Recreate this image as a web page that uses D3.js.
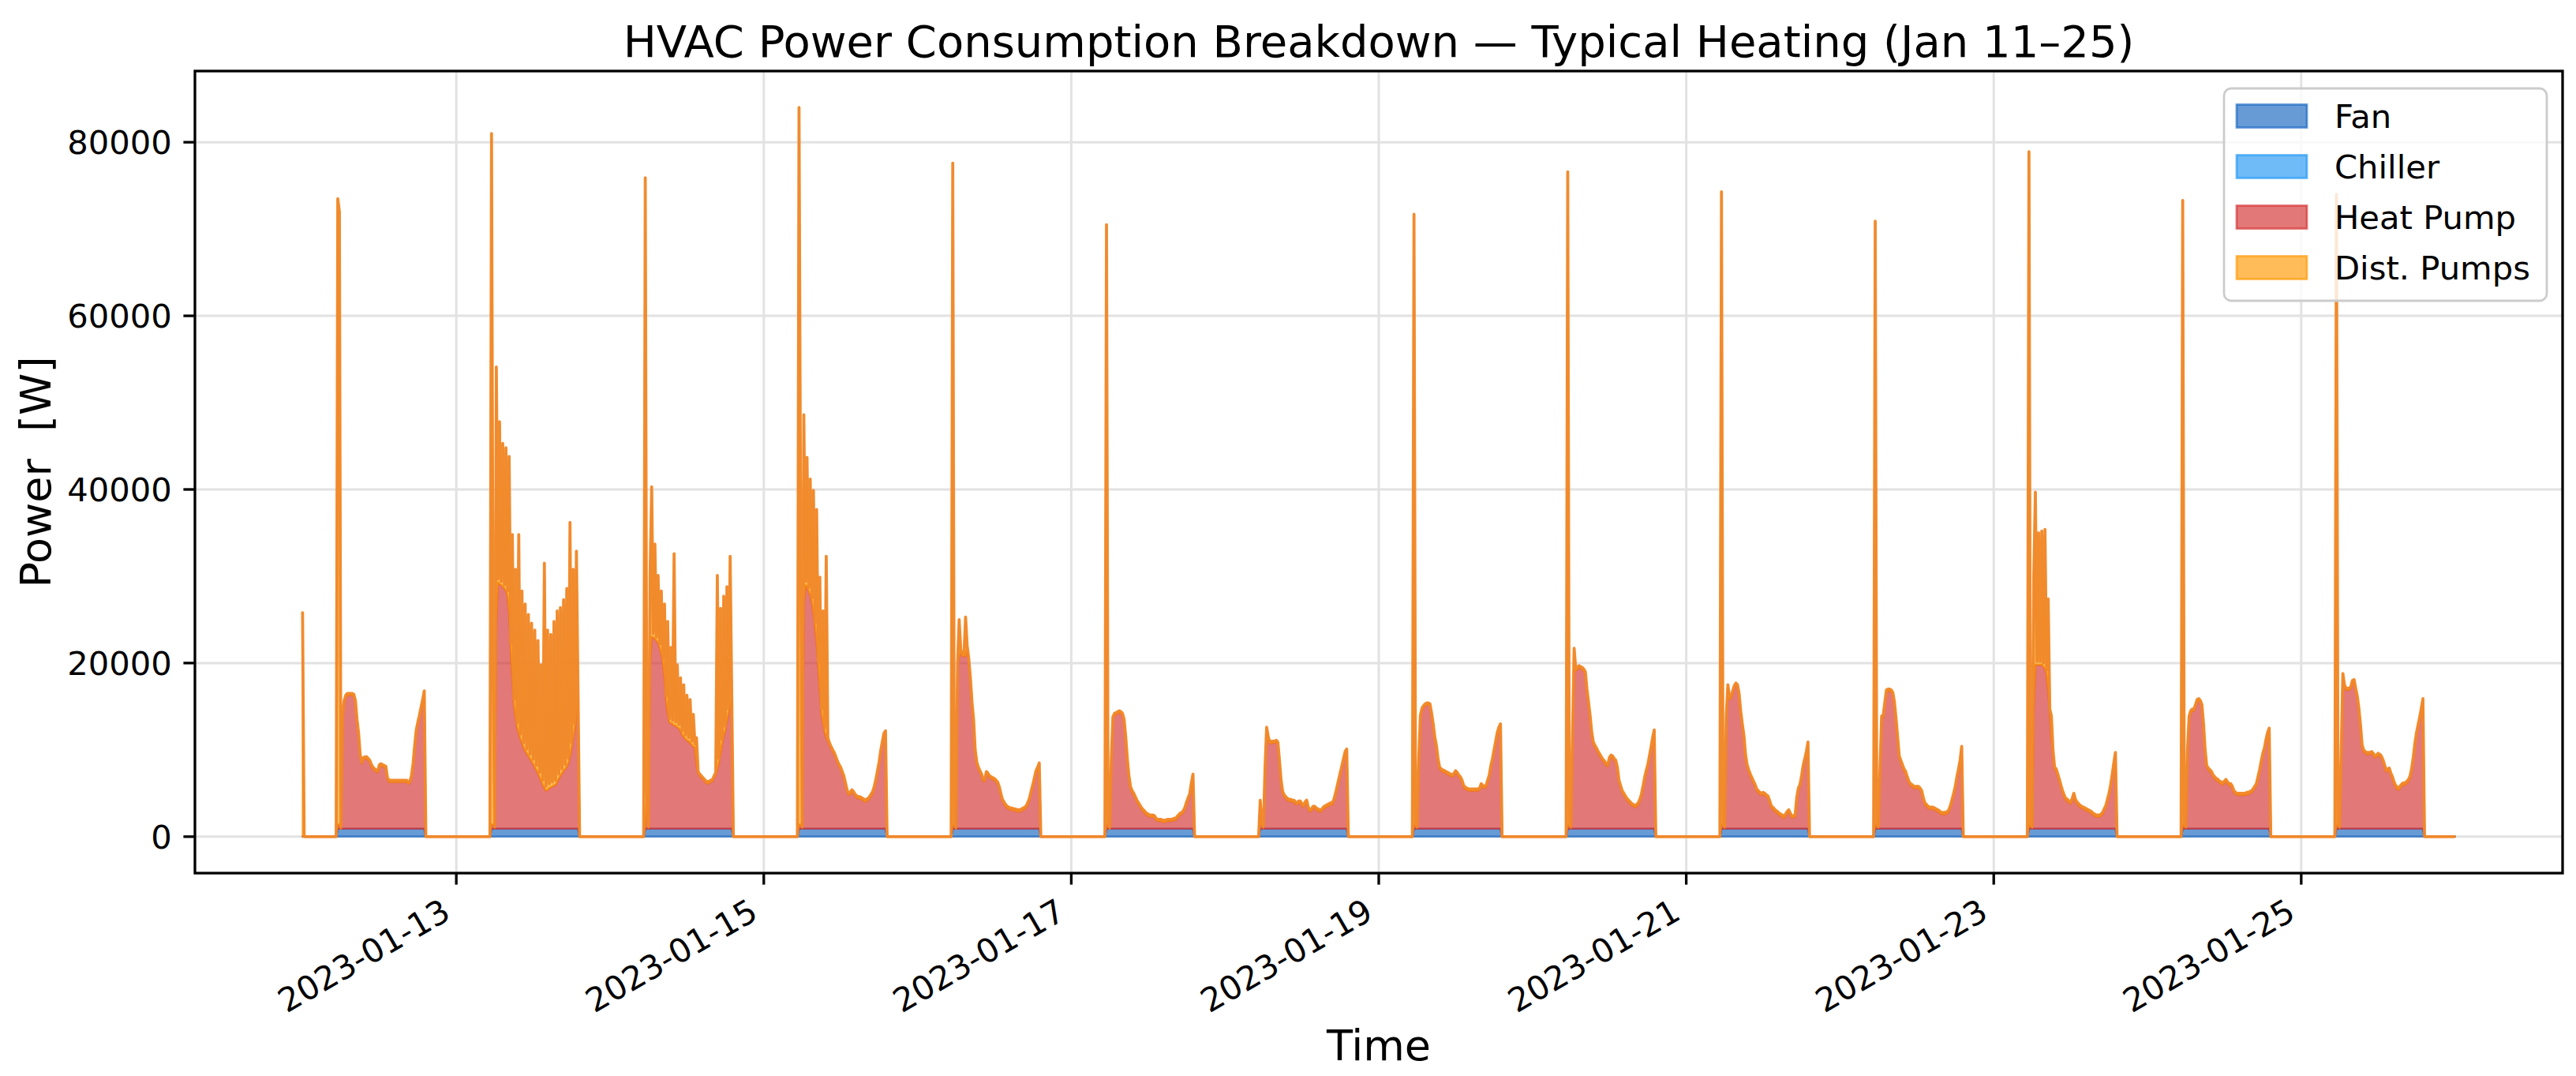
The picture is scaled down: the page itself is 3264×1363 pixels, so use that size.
<!DOCTYPE html>
<html><head><meta charset="utf-8">
<script src="https://cdn.jsdelivr.net/npm/d3@7"></script>
<style>
body{margin:0;background:#fff}
svg{display:block}
text{font-family:"DejaVu Sans",sans-serif;fill:#000}
</style>
</head><body>
<svg id="c" width="3264" height="1363"></svg>
<script>
// ---------------- DATA (kW, 15-min samples while the plant is on, 05:30 .. 19:00) ----------------
const seriesNames  = ["Fan", "Chiller", "Heat Pump", "Dist. Pumps"];
const seriesColors = ["#1565C0", "#2196F3", "#D32F2F", "#FF9800"];
const dayDates     = ["2023-01-12","2023-01-13","2023-01-14","2023-01-15","2023-01-16","2023-01-17","2023-01-18",
                      "2023-01-19","2023-01-20","2023-01-21","2023-01-22","2023-01-23","2023-01-24","2023-01-25"];
const seriesStart  = "2023-01-12T00:00";
const seriesEnd    = "2023-01-26T00:00";
const onTime       = "05:30";
const stepMinutes  = 15;
const startSpikeKW = 25.9;   // Dist. Pumps reading at the very first sample
const fanKW     = [0.9,0.9,0.9,0.9,0.9,0.9,0.9,0.9,0.9,0.9,0.9,0.9,0.9,0.9];
const chillerKW = [0,0,0,0,0,0,0,0,0,0,0,0,0,0];

const hp12 = [0.5,0.5,0.0,12.7,14.6,15.2,15.4,15.4,15.4,15.4, 15.3,14.6,12.4,10.8,8.3,7.5,8.0,8.1,8.1,7.9, 7.7,7.2,6.9,6.7,6.6,6.5,7.2,7.3,7.2,7.1, 7.0,5.7,5.4,5.4,5.4,5.4,5.4,5.4,5.4,5.4, 5.4,5.4,5.4,5.4,5.2,5.3,5.9,7.3,9.4,11.2, 12.1,12.9,13.8,14.7,15.7];
const dp12 = [72.1,70.6,0.2,0.2,0.2,0.2,0.2,0.2,0.2,0.2, 0.2,0.2,0.2,0.2,0.2,0.2,0.2,0.2,0.2,0.2, 0.2,0.2,0.2,0.2,0.2,0.2,0.2,0.2,0.2,0.2, 0.2,0.2,0.2,0.2,0.2,0.2,0.2,0.2,0.2,0.2, 0.2,0.2,0.2,0.2,0.2,0.2,0.2,0.2,0.2,0.2, 0.2,0.2,0.2,0.2,0.2];
const hp13 = [0.5,0.5,0.1,23.9,28.4,28.2,28.1,27.9,27.7,27.4, 26.9,24.9,20.9,17.4,14.4,12.9,11.7,11.0,10.4,9.9, 9.4,9.0,8.7,8.4,8.1,7.8,7.5,7.1,6.8,6.4, 6.0,5.5,5.1,4.7,4.4,4.5,4.7,4.8,4.9,5.0, 5.1,5.4,5.8,6.1,6.4,6.7,6.9,7.2,7.6,8.4, 9.4,10.4,11.6,13.4,15.4];
const dp13 = [79.6,17.6,0.2,29.3,0.4,18.7,0.4,16.5,0.4,16.5, 0.5,18.0,0.5,16.5,0.5,17.0,0.5,22.9,0.5,17.5, 0.5,16.9,0.5,16.3,0.5,15.9,0.5,15.8,0.5,15.3, 0.5,13.4,0.5,25.9,0.5,18.4,0.5,17.6,0.5,18.9, 0.5,19.7,0.5,19.4,0.5,19.7,0.5,20.5,0.5,26.9, 0.5,19.5,0.5,18.6,0.5];
const hp14 = [0.5,3.9,0.1,18.9,22.1,22.1,21.9,21.7,21.4,20.9, 20.1,19.3,17.4,14.9,13.4,12.3,12.2,12.1,11.9,11.9, 11.7,11.6,11.3,10.9,10.6,10.4,10.2,10.1,9.9,9.7, 9.5,9.4,7.4,6.4,6.1,5.9,5.7,5.5,5.3,5.2, 5.3,5.4,5.5,5.9,6.3,6.9,7.7,8.7,9.9,10.7, 11.4,12.4,13.4,14.2,14.9];
const dp14 = [74.5,0.2,0.2,10.6,17.3,0.4,10.9,0.4,7.8,0.4, 7.3,0.4,8.5,0.4,10.5,0.4,8.7,0.4,19.8,0.4, 7.2,0.4,6.1,0.4,6.0,0.4,5.2,0.4,5.0,0.4, 3.7,0.4,3.1,0.2,0.2,0.2,0.2,0.2,0.2,0.2, 0.2,0.2,0.2,0.2,0.2,22.3,0.4,16.7,0.4,16.1, 0.4,15.5,0.4,17.2,0.4];
const hp15 = [0.5,0.5,0.1,25.9,28.1,27.9,27.4,26.9,26.2,24.9, 23.4,21.4,18.9,15.9,13.4,12.1,11.2,10.5,10.1,9.7, 9.3,8.9,8.6,8.1,7.6,7.2,6.9,6.4,5.9,5.1, 4.3,3.9,4.0,4.3,4.1,3.8,3.6,3.5,3.5,3.4, 3.3,3.1,3.2,3.3,3.5,3.8,4.1,4.7,5.5,6.5, 7.5,8.8,9.8,10.8,11.1];
const dp15 = [82.6,34.6,0.2,21.8,0.4,14.9,0.4,13.4,0.4,14.1, 0.4,15.4,0.4,13.1,0.4,13.0,0.4,20.9,0.4,0.2, 0.2,0.2,0.2,0.2,0.2,0.2,0.2,0.2,0.2,0.2, 0.2,0.2,0.2,0.2,0.2,0.2,0.2,0.2,0.2,0.2, 0.2,0.2,0.2,0.2,0.2,0.2,0.2,0.2,0.2,0.2, 0.2,0.2,0.2,0.2,0.2];
const hp16 = [0.5,0.4,0.0,18.9,19.9,20.4,19.9,19.9,19.9,20.9, 19.4,17.2,14.4,12.4,8.9,7.5,6.9,6.5,6.1,5.5, 5.5,6.4,6.2,5.9,5.8,5.7,5.6,5.4,5.2,4.7, 3.9,3.2,2.9,2.6,2.4,2.3,2.2,2.2,2.1,2.1, 2.0,2.0,2.0,2.1,2.2,2.3,2.5,2.9,3.4,4.2, 4.9,5.7,6.5,6.9,7.4];
const dp16 = [76.2,0.2,0.2,0.2,4.2,0.2,0.2,0.2,4.5,0.2, 0.2,0.2,0.2,0.2,0.2,0.2,0.2,0.2,0.2,0.2, 0.2,0.2,0.2,0.2,0.2,0.2,0.2,0.2,0.2,0.2, 0.2,0.2,0.2,0.2,0.2,0.2,0.2,0.2,0.2,0.2, 0.2,0.2,0.2,0.2,0.2,0.2,0.2,0.2,0.2,0.2, 0.2,0.2,0.2,0.2,0.2];
const hp17 = [0.5,0.4,0.0,7.9,12.7,13.1,13.2,13.3,13.4,13.3, 13.1,12.4,10.4,7.9,5.9,4.7,4.2,3.9,3.5,3.1, 2.8,2.5,2.2,2.0,1.8,1.6,1.5,1.4,1.4,1.4, 1.3,1.0,0.9,0.9,0.9,0.8,0.8,0.8,0.9,0.9, 0.9,0.9,1.0,1.0,1.2,1.4,1.6,1.7,1.9,2.3, 2.9,3.4,3.9,5.1,6.1];
const dp17 = [69.1,0.2,0.2,0.2,0.2,0.2,0.2,0.2,0.2,0.2, 0.2,0.2,0.2,0.2,0.2,0.2,0.2,0.2,0.2,0.2, 0.2,0.2,0.2,0.2,0.2,0.2,0.2,0.2,0.2,0.2, 0.2,0.2,0.2,0.2,0.2,0.2,0.2,0.2,0.2,0.2, 0.2,0.2,0.2,0.2,0.2,0.2,0.2,0.2,0.2,0.2, 0.2,0.2,0.2,0.2,0.2];
const hp18 = [3.1,0.4,0.1,6.9,11.5,10.4,9.8,9.9,9.9,9.9, 10.0,9.8,7.7,5.4,4.1,3.7,3.5,3.3,3.2,3.2, 3.1,3.1,2.9,2.8,3.0,3.0,2.7,2.5,2.9,3.1, 2.3,2.0,2.1,2.4,2.4,2.2,2.1,2.0,2.0,2.2, 2.4,2.5,2.6,2.7,2.8,2.8,3.2,3.9,4.7,5.5, 6.3,7.1,7.9,8.7,9.0];
const dp18 = [0.2,0.2,0.2,0.2,0.2,0.2,0.2,0.2,0.2,0.2, 0.2,0.2,0.2,0.2,0.2,0.2,0.2,0.2,0.2,0.2, 0.2,0.2,0.2,0.2,0.2,0.2,0.2,0.2,0.2,0.2, 0.2,0.2,0.2,0.2,0.2,0.2,0.2,0.2,0.2,0.2, 0.2,0.2,0.2,0.2,0.2,0.2,0.2,0.2,0.2,0.2, 0.2,0.2,0.2,0.2,0.2];
const hp19 = [0.5,0.4,0.1,7.9,12.9,13.7,14.0,14.2,14.3,14.3, 14.2,13.1,11.9,10.4,9.4,7.9,6.9,6.7,6.6,6.5, 6.4,6.3,6.2,6.1,6.0,6.2,6.5,6.3,6.0,5.8, 5.4,4.8,4.6,4.5,4.4,4.4,4.4,4.4,4.4,4.4, 4.4,4.5,5.0,4.8,4.7,4.8,5.4,6.0,7.1,7.9, 8.9,9.9,10.9,11.5,11.9];
const dp19 = [70.3,0.2,0.2,0.2,0.2,0.2,0.2,0.2,0.2,0.2, 0.2,0.2,0.2,0.2,0.2,0.2,0.2,0.2,0.2,0.2, 0.2,0.2,0.2,0.2,0.2,0.2,0.2,0.2,0.2,0.2, 0.2,0.2,0.2,0.2,0.2,0.2,0.2,0.2,0.2,0.2, 0.2,0.2,0.2,0.2,0.2,0.2,0.2,0.2,0.2,0.2, 0.2,0.2,0.2,0.2,0.2];
const hp20 = [0.5,0.4,0.1,10.9,18.2,18.2,18.4,18.6,18.5,18.4, 18.2,17.9,15.9,14.4,12.8,10.9,9.8,9.4,9.1,8.7, 8.4,8.1,7.8,7.6,7.3,7.2,8.0,8.3,8.2,7.9, 7.7,6.9,5.4,4.8,4.2,3.9,3.6,3.3,3.1,2.9, 2.7,2.6,2.5,2.6,2.8,3.2,3.8,4.7,5.7,6.5, 7.2,8.2,9.2,10.3,11.2];
const dp20 = [75.2,0.2,0.2,0.2,2.6,0.2,0.2,0.2,0.2,0.2, 0.2,0.2,0.2,0.2,0.2,0.2,0.2,0.2,0.2,0.2, 0.2,0.2,0.2,0.2,0.2,0.2,0.2,0.2,0.2,0.2, 0.2,0.2,0.2,0.2,0.2,0.2,0.2,0.2,0.2,0.2, 0.2,0.2,0.2,0.2,0.2,0.2,0.2,0.2,0.2,0.2, 0.2,0.2,0.2,0.2,0.2];
const hp21 = [0.5,0.4,0.1,12.9,16.4,14.9,15.1,15.7,16.3,16.6, 16.4,15.4,13.4,11.9,10.6,8.4,7.2,6.6,6.1,5.7, 5.3,4.9,4.4,4.2,4.0,3.9,4.0,3.9,3.7,3.6, 3.1,2.5,2.3,2.1,1.9,1.8,1.6,1.5,1.4,1.2, 1.5,1.8,2.0,1.6,1.3,1.3,1.4,3.4,4.5,4.9, 5.9,7.1,7.9,8.7,9.8];
const dp21 = [72.9,0.2,0.2,0.2,0.2,0.2,0.2,0.2,0.2,0.2, 0.2,0.2,0.2,0.2,0.2,0.2,0.2,0.2,0.2,0.2, 0.2,0.2,0.2,0.2,0.2,0.2,0.2,0.2,0.2,0.2, 0.2,0.2,0.2,0.2,0.2,0.2,0.2,0.2,0.2,0.2, 0.2,0.2,0.2,0.2,0.2,0.2,0.2,0.2,0.2,0.2, 0.2,0.2,0.2,0.2,0.2];
const hp22 = [0.5,0.4,0.1,6.9,12.8,12.9,14.4,15.8,15.9,15.9, 15.8,15.5,14.4,12.5,10.4,8.2,7.7,7.2,6.7,6.4, 5.8,5.3,5.0,4.9,4.7,4.7,4.7,4.7,4.5,4.2, 3.4,2.8,2.6,2.4,2.3,2.3,2.3,2.2,2.1,2.0, 1.9,1.7,1.7,1.7,1.7,1.8,2.0,2.5,3.2,3.9, 4.7,5.8,6.7,7.7,9.3];
const dp22 = [69.5,0.2,0.2,0.2,0.2,0.2,0.2,0.2,0.2,0.2, 0.2,0.2,0.2,0.2,0.2,0.2,0.2,0.2,0.2,0.2, 0.2,0.2,0.2,0.2,0.2,0.2,0.2,0.2,0.2,0.2, 0.2,0.2,0.2,0.2,0.2,0.2,0.2,0.2,0.2,0.2, 0.2,0.2,0.2,0.2,0.2,0.2,0.2,0.2,0.2,0.2, 0.2,0.2,0.2,0.2,0.2];
const hp23 = [0.5,0.4,0.1,13.9,18.9,18.9,18.9,18.9,18.9,18.7, 18.4,17.9,15.9,13.4,10.4,8.9,6.9,6.7,6.1,5.5, 4.8,4.2,3.7,3.3,3.2,3.0,2.9,3.3,3.9,3.2, 2.9,2.7,2.5,2.4,2.3,2.2,2.1,2.0,1.9,1.8, 1.6,1.5,1.4,1.4,1.4,1.5,1.7,2.1,2.5,3.2, 3.9,4.9,6.1,7.4,8.6];
const dp23 = [77.5,0.2,0.2,15.2,19.9,0.4,15.2,0.4,15.4,0.4, 16.1,0.4,10.6,0.4,2.6,0.2,0.2,0.2,0.2,0.2, 0.2,0.2,0.2,0.2,0.2,0.2,0.2,0.2,0.2,0.2, 0.2,0.2,0.2,0.2,0.2,0.2,0.2,0.2,0.2,0.2, 0.2,0.2,0.2,0.2,0.2,0.2,0.2,0.2,0.2,0.2, 0.2,0.2,0.2,0.2,0.2];
const hp24 = [0.5,0.4,0.1,8.9,12.8,13.4,13.6,13.6,14.1,14.7, 14.8,14.6,14.1,11.9,8.9,7.1,6.8,6.6,6.4,6.0, 5.8,5.6,5.5,5.3,5.2,5.1,5.3,5.5,5.2,5.0, 5.0,4.7,4.2,4.0,3.9,3.9,3.9,3.9,3.9,3.9, 4.0,4.0,4.1,4.2,4.4,4.7,5.0,5.8,6.6,7.6, 8.5,9.1,10.1,10.9,11.4];
const dp24 = [71.9,0.2,0.2,0.2,0.2,0.2,0.2,0.2,0.2,0.2, 0.2,0.2,0.2,0.2,0.2,0.2,0.2,0.2,0.2,0.2, 0.2,0.2,0.2,0.2,0.2,0.2,0.2,0.2,0.2,0.2, 0.2,0.2,0.2,0.2,0.2,0.2,0.2,0.2,0.2,0.2, 0.2,0.2,0.2,0.2,0.2,0.2,0.2,0.2,0.2,0.2, 0.2,0.2,0.2,0.2,0.2];
const hp25 = [0.5,0.4,0.1,8.9,17.7,16.4,16.0,16.0,16.0,16.2, 16.9,17.0,16.0,15.1,13.7,11.8,9.5,8.9,8.7,8.6, 8.6,8.6,8.7,8.5,8.2,8.3,8.5,8.4,8.2,7.8, 7.2,6.6,6.7,6.8,6.2,5.8,5.2,4.8,4.6,4.5, 4.8,5.0,5.1,5.1,5.3,5.5,5.9,6.8,8.1,9.7, 10.9,11.8,12.7,13.7,14.8];
const dp25 = [72.6,0.2,0.2,0.2,0.2,0.2,0.2,0.2,0.2,0.2, 0.2,0.2,0.2,0.2,0.2,0.2,0.2,0.2,0.2,0.2, 0.2,0.2,0.2,0.2,0.2,0.2,0.2,0.2,0.2,0.2, 0.2,0.2,0.2,0.2,0.2,0.2,0.2,0.2,0.2,0.2, 0.2,0.2,0.2,0.2,0.2,0.2,0.2,0.2,0.2,0.2, 0.2,0.2,0.2,0.2,0.2];

const xTickLabels = ["2023-01-13","2023-01-15","2023-01-17","2023-01-19","2023-01-21","2023-01-23","2023-01-25"];
const yTickValues = [0, 20000, 40000, 60000, 80000];
const titleText = "HVAC Power Consumption Breakdown \u2014 Typical Heating (Jan 11\u201325)";
const xLabelText = "Time";
const yLabelText = "Power  [W]";

// ---------------- BUILD TIME SERIES ----------------
const hpDays = [hp12,hp13,hp14,hp15,hp16,hp17,hp18,hp19,hp20,hp21,hp22,hp23,hp24,hp25];
const dpDays = [dp12,dp13,dp14,dp15,dp16,dp17,dp18,dp19,dp20,dp21,dp22,dp23,dp24,dp25];
const keys = ["fan","chiller","hp","dp"];
const parseUTC = s => new Date(s + ":00Z");
const [onH, onM] = onTime.split(":").map(Number);
const onSlot = (onH*60 + onM) / stepMinutes;
const slotsPerDay = 24*60/stepMinutes;
const rows = [];
dayDates.forEach((ds, k) => {
  const base = parseUTC(ds + "T00:00").getTime();
  for (let s = 0; s < slotsPerDay; s++) {
    const i = s - onSlot;
    const on = i >= 0 && i < hpDays[k].length;
    rows.push({
      t: new Date(base + s*stepMinutes*60000),
      fan: on ? fanKW[k]*1000 : 0,
      chiller: on ? chillerKW[k]*1000 : 0,
      hp: on ? hpDays[k][i]*1000 : 0,
      dp: on ? dpDays[k][i]*1000 : 0
    });
  }
});
rows.push({t: parseUTC(seriesEnd), fan:0, chiller:0, hp:0, dp:0});
rows[0].dp = startSpikeKW*1000;
rows.forEach(r => r.total = r.fan + r.chiller + r.hp + r.dp);

// ---------------- LAYOUT ----------------
const L = 247, R = 3247, T = 90, B = 1106;
const svg = d3.select("#c");
const tMin = parseUTC(seriesStart).getTime(), tMax = parseUTC(seriesEnd).getTime();
const tPad = 0.05*(tMax - tMin);
const x = d3.scaleUtc().domain([new Date(tMin - tPad), new Date(tMax + tPad)]).range([L, R]);
const yMax = d3.max(rows, r => r.total);
const y = d3.scaleLinear().domain([-0.05*yMax, 1.05*yMax]).range([B, T]);

const tickFont = 41.7;
const xTicks = xTickLabels.map(s => parseUTC(s + "T00:00"));

// grid
const grid = svg.append("g");
yTickValues.forEach(v => grid.append("line").attr("x1", L).attr("x2", R).attr("y1", y(v)).attr("y2", y(v))
  .attr("stroke", "#e2e2e2").attr("stroke-width", 3));
xTicks.forEach(t => grid.append("line").attr("x1", x(t)).attr("x2", x(t)).attr("y1", T).attr("y2", B)
  .attr("stroke", "#e2e2e2").attr("stroke-width", 3));

// stacked areas
svg.append("clipPath").attr("id", "clip").append("rect").attr("x", L).attr("y", T).attr("width", R-L).attr("height", B-T);
const plot = svg.append("g").attr("clip-path", "url(#clip)");
const stack = d3.stack().keys(keys);
const layers = stack(rows);
const area = d3.area().x(d => x(d.data.t)).y0(d => y(d[0])).y1(d => y(d[1]));
layers.forEach((layer, j) => {
  plot.append("path").datum(layer).attr("d", area)
    .attr("fill", seriesColors[j]).attr("fill-opacity", 0.65)
    .attr("stroke", seriesColors[j]).attr("stroke-opacity", 0.65).attr("stroke-width", 2.4)
    .attr("stroke-linejoin", "round");
});
// total outline
const line = d3.line().x(d => x(d.t)).y(d => y(d.total));
plot.append("path").datum(rows).attr("d", line).attr("fill", "none")
  .attr("stroke", "#F0882A").attr("stroke-opacity", 0.95).attr("stroke-width", 3.8).attr("stroke-linejoin", "round");

// spines
svg.append("rect").attr("x", L).attr("y", T).attr("width", R-L).attr("height", B-T)
  .attr("fill", "none").attr("stroke", "#000").attr("stroke-width", 3.3);

// y axis ticks
const yAx = svg.append("g");
yTickValues.forEach(v => {
  yAx.append("line").attr("x1", L - 14.6).attr("x2", L).attr("y1", y(v)).attr("y2", y(v)).attr("stroke", "#000").attr("stroke-width", 3.3);
  yAx.append("text").attr("x", L - 14.6 - 14.6).attr("y", y(v)).attr("dy", "0.36em")
    .attr("text-anchor", "end").style("font-size", tickFont + "px").text(d3.format("d")(v));
});
// x axis ticks
const xAx = svg.append("g");
const asc = 0.76*tickFont, desc = 0.24*tickFont;
xTicks.forEach((t, k) => {
  const px = x(t);
  xAx.append("line").attr("x1", px).attr("x2", px).attr("y1", B).attr("y2", B + 14.6).attr("stroke", "#000").attr("stroke-width", 3.3);
  const ax = px - 0.5*desc, ay = B + 29.2 + 0.866*asc;
  xAx.append("text").attr("transform", `translate(${ax},${ay}) rotate(-30)`)
    .attr("text-anchor", "end").style("font-size", tickFont + "px").text(xTickLabels[k]);
});

// labels
svg.append("text").attr("x", (L+R)/2).attr("y", 72).attr("text-anchor", "middle")
  .style("font-size", "56px").text(titleText);
svg.append("text").attr("x", (L+R)/2).attr("y", 1343).attr("text-anchor", "middle")
  .style("font-size", "54px").text(xLabelText);
svg.append("text").attr("transform", `translate(64,${(T+B)/2}) rotate(-90)`).attr("text-anchor", "middle")
  .style("font-size", "54px").style("white-space", "pre").text(yLabelText);

// legend
const lg = svg.append("g");
lg.append("rect").attr("x", 2818).attr("y", 112).attr("width", 409).attr("height", 269).attr("rx", 9)
  .attr("fill", "#fff").attr("fill-opacity", 0.8).attr("stroke", "#cccccc").attr("stroke-width", 2.8);
const rowY = [147, 211, 275, 339];
seriesNames.forEach((n, j) => {
  lg.append("rect").attr("x", 2834).attr("y", rowY[j] - 14.5).attr("width", 89).attr("height", 29)
    .attr("fill", seriesColors[j]).attr("fill-opacity", 0.65)
    .attr("stroke", seriesColors[j]).attr("stroke-opacity", 0.65).attr("stroke-width", 2.8);
  lg.append("text").attr("x", 2958).attr("y", rowY[j]).attr("dy", "0.36em")
    .style("font-size", tickFont + "px").text(n);
});
</script>
</body></html>
